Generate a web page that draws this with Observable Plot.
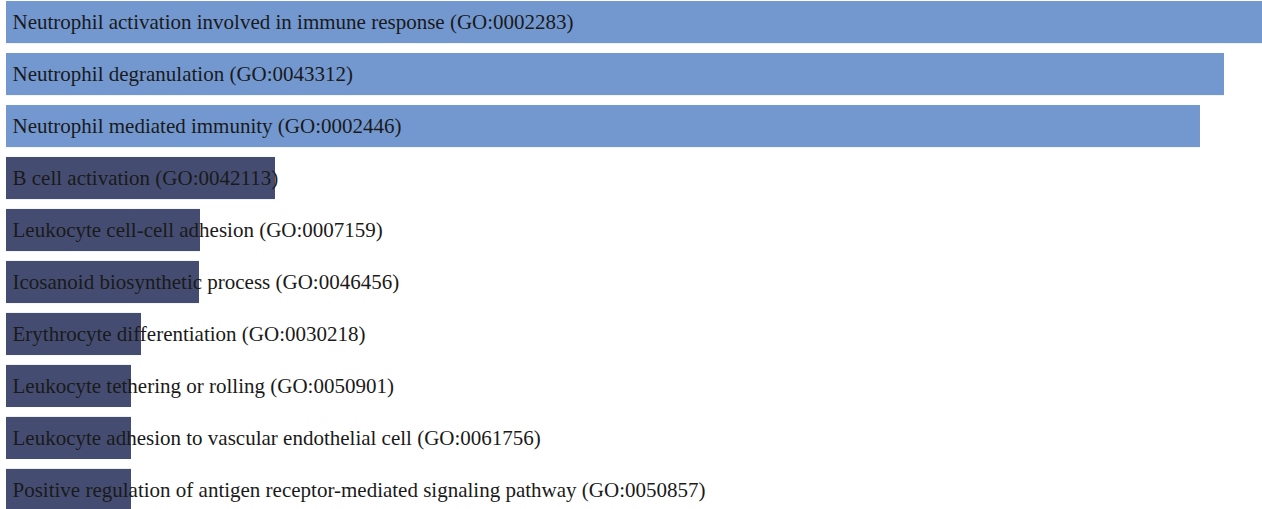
<!DOCTYPE html>
<html>
<head>
<meta charset="utf-8">
<script src="https://cdn.jsdelivr.net/npm/d3@7"></script>
<script src="https://cdn.jsdelivr.net/npm/@observablehq/plot@0.6"></script>
<style>
  html, body { margin: 0; padding: 0; background: #fff; }
  svg { display: block; }
</style>
</head>
<body>
<div id="chart"></div>
<script>
const terms = [
  "Neutrophil activation involved in immune response (GO:0002283)",
  "Neutrophil degranulation (GO:0043312)",
  "Neutrophil mediated immunity (GO:0002446)",
  "B cell activation (GO:0042113)",
  "Leukocyte cell-cell adhesion (GO:0007159)",
  "Icosanoid biosynthetic process (GO:0046456)",
  "Erythrocyte differentiation (GO:0030218)",
  "Leukocyte tethering or rolling (GO:0050901)",
  "Leukocyte adhesion to vascular endothelial cell (GO:0061756)",
  "Positive regulation of antigen receptor-mediated signaling pathway (GO:0050857)"
];
const scores = [125.6, 121.8, 119.4, 26.9, 19.4, 19.3, 13.5, 12.5, 12.5, 12.5];
const groups = ["top", "top", "top", "other", "other", "other", "other", "other", "other", "other"];

const data = terms.map((t, i) => ({term: t, score: scores[i], group: groups[i]}));

const chart = Plot.plot({
  width: 1262,
  height: 509,
  marginLeft: 6,
  marginRight: 0,
  marginTop: 0,
  marginBottom: 0,
  style: {fontFamily: "'Liberation Serif', 'DejaVu Serif', serif", background: "#fff"},
  x: {domain: [0, 125.6], range: [6, 1262], axis: null},
  y: {domain: terms, range: [1, 511], paddingInner: 0.19, paddingOuter: 0, round: false, axis: null},
  color: {domain: ["top", "other"], range: ["#7398d0", "#444d71"]},
  marks: [
    Plot.barX(data, {x: "score", y: "term", fill: "group"}),
    Plot.text(data, {x: 0, y: "term", text: "term", textAnchor: "start", dx: 6, dy: 0, fill: "#1a1a1a", fontSize: 21})
  ]
});
document.getElementById("chart").appendChild(chart);
</script>
</body>
</html>
